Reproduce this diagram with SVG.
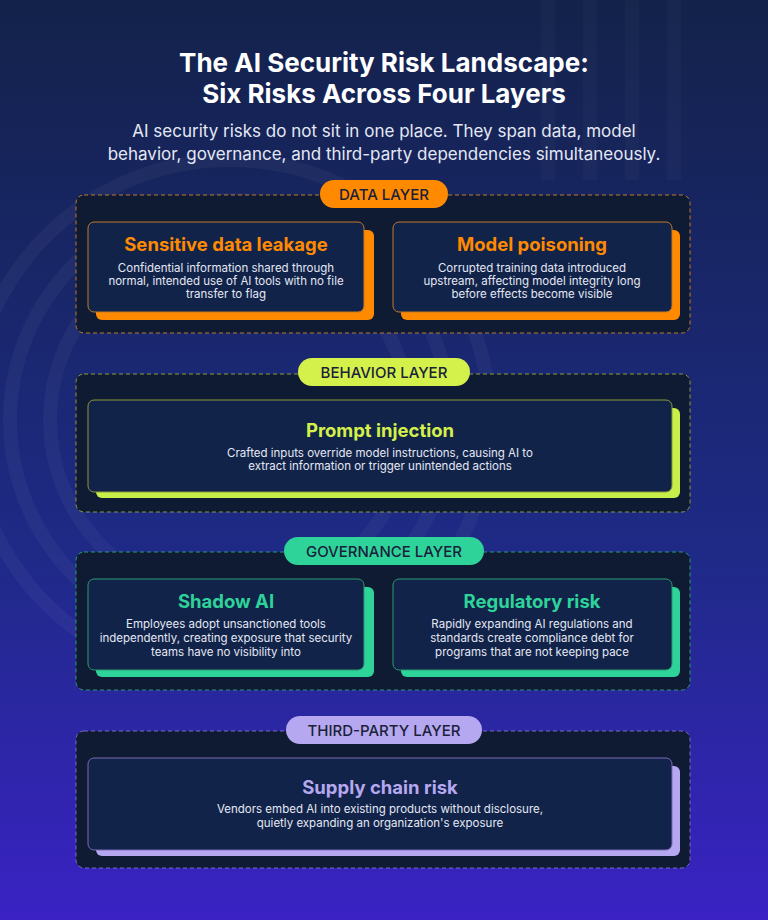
<svg xmlns="http://www.w3.org/2000/svg" width="768" height="920" viewBox="0 0 768 920">
<defs>
<linearGradient id="bg" x1="0" y1="0" x2="0" y2="1"><stop offset="0" stop-color="#13224a"/><stop offset="0.6" stop-color="#1e2a86"/><stop offset="1" stop-color="#3a22c4"/></linearGradient>
<style>
text{font-family:"Inter","Liberation Sans",sans-serif;text-anchor:middle}
.t{font-size:26px;font-weight:700;fill:#fff}
.s{font-size:17px;fill:#e4e8f4}
.panel{fill:#0f1a33;stroke-width:1;stroke-dasharray:4 3}
.card{fill:#122349;stroke-width:1}
.ct{font-size:18.5px;font-weight:700}
.cd{font-size:11.5px;fill:#e4e8f4}
.pl{font-size:15px;font-weight:500;fill:#1a1f3a}
.deco{fill:none;stroke:#ffffff;stroke-opacity:0.04;stroke-width:14}
</style>
</defs>
<rect width="768" height="920" fill="url(#bg)"/>
<g class="deco"><circle cx="230" cy="420" r="180"/><circle cx="230" cy="420" r="220"/><circle cx="230" cy="420" r="260"/><path d="M548 0V180M590 0V180M632 0V180M674 0V180" stroke-opacity="0.025"/></g>
<text class="t" x="384" y="72">The AI Security Risk Landscape:</text>
<text class="t" x="384" y="103">Six Risks Across Four Layers</text>
<text class="s" x="384" y="137">AI security risks do not sit in one place. They span data, model</text>
<text class="s" x="384" y="160">behavior, governance, and third-party dependencies simultaneously.</text>

<g id="data-layer">
<rect class="panel" x="76" y="195" width="614" height="138" rx="8" stroke="#c07a2a"/>
<rect x="320" y="180" width="128" height="28" rx="14" fill="#ff8a00"/>
<text class="pl" x="384" y="200">DATA LAYER</text>
</g>
<g id="sensitive-data-leakage">
<rect x="96" y="230" width="278" height="90" rx="6" fill="#ff8a00"/>
<rect class="card" x="88" y="222" width="276" height="90" rx="6" stroke="#c07a2a"/>
<text class="ct" x="226" y="251" fill="#ff8a00">Sensitive data leakage</text>
<text class="cd" x="226" y="272">Confidential information shared through</text>
<text class="cd" x="226" y="285">normal, intended use of AI tools with no file</text>
<text class="cd" x="226" y="298">transfer to flag</text>
</g>
<g id="model-poisoning">
<rect x="401" y="230" width="279" height="90" rx="6" fill="#ff8a00"/>
<rect class="card" x="393" y="222" width="279" height="90" rx="6" stroke="#c07a2a"/>
<text class="ct" x="532" y="251" fill="#ff8a00">Model poisoning</text>
<text class="cd" x="532" y="272">Corrupted training data introduced</text>
<text class="cd" x="532" y="285">upstream, affecting model integrity long</text>
<text class="cd" x="532" y="298">before effects become visible</text>
</g>

<g id="behavior-layer">
<rect class="panel" x="76" y="374" width="614" height="138" rx="8" stroke="#8a9a3a"/>
<rect x="298" y="358" width="172" height="28" rx="14" fill="#d4f04a"/>
<text class="pl" x="384" y="378">BEHAVIOR LAYER</text>
</g>
<g id="prompt-injection">
<rect x="96" y="408" width="584" height="90" rx="6" fill="#c8ee4a"/>
<rect class="card" x="88" y="400" width="584" height="92" rx="6" stroke="#8a9a3a"/>
<text class="ct" x="380" y="437" fill="#d4f04a">Prompt injection</text>
<text class="cd" x="380" y="457">Crafted inputs override model instructions, causing AI to</text>
<text class="cd" x="380" y="470">extract information or trigger unintended actions</text>
</g>

<g id="governance-layer">
<rect class="panel" x="76" y="552" width="614" height="138" rx="8" stroke="#2a9a72"/>
<rect x="284" y="537" width="200" height="28" rx="14" fill="#2ed39a"/>
<text class="pl" x="384" y="557">GOVERNANCE LAYER</text>
</g>
<g id="shadow-ai">
<rect x="96" y="587" width="278" height="90" rx="6" fill="#2ed39a"/>
<rect class="card" x="88" y="579" width="276" height="91" rx="6" stroke="#2a9a72"/>
<text class="ct" x="226" y="608" fill="#2ed39a">Shadow AI</text>
<text class="cd" x="226" y="628">Employees adopt unsanctioned tools</text>
<text class="cd" x="226" y="642">independently, creating exposure that security</text>
<text class="cd" x="226" y="656">teams have no visibility into</text>
</g>
<g id="regulatory-risk">
<rect x="401" y="587" width="279" height="90" rx="6" fill="#2ed39a"/>
<rect class="card" x="393" y="579" width="279" height="91" rx="6" stroke="#2a9a72"/>
<text class="ct" x="532" y="608" fill="#2ed39a">Regulatory risk</text>
<text class="cd" x="532" y="628">Rapidly expanding AI regulations and</text>
<text class="cd" x="532" y="642">standards create compliance debt for</text>
<text class="cd" x="532" y="656">programs that are not keeping pace</text>
</g>

<g id="third-party-layer">
<rect class="panel" x="76" y="731" width="614" height="137" rx="8" stroke="#7a6ab8"/>
<rect x="286" y="716" width="196" height="28" rx="14" fill="#b6a8f0"/>
<text class="pl" x="384" y="736">THIRD-PARTY LAYER</text>
</g>
<g id="supply-chain-risk">
<rect x="96" y="766" width="584" height="90" rx="6" fill="#b6a8f0"/>
<rect class="card" x="88" y="758" width="584" height="92" rx="6" stroke="#7a6ab8"/>
<text class="ct" x="380" y="794" fill="#b6a8f0">Supply chain risk</text>
<text class="cd" x="380" y="813">Vendors embed AI into existing products without disclosure,</text>
<text class="cd" x="380" y="827">quietly expanding an organization's exposure</text>
</g>
<g id="connectors"/>
</svg>
